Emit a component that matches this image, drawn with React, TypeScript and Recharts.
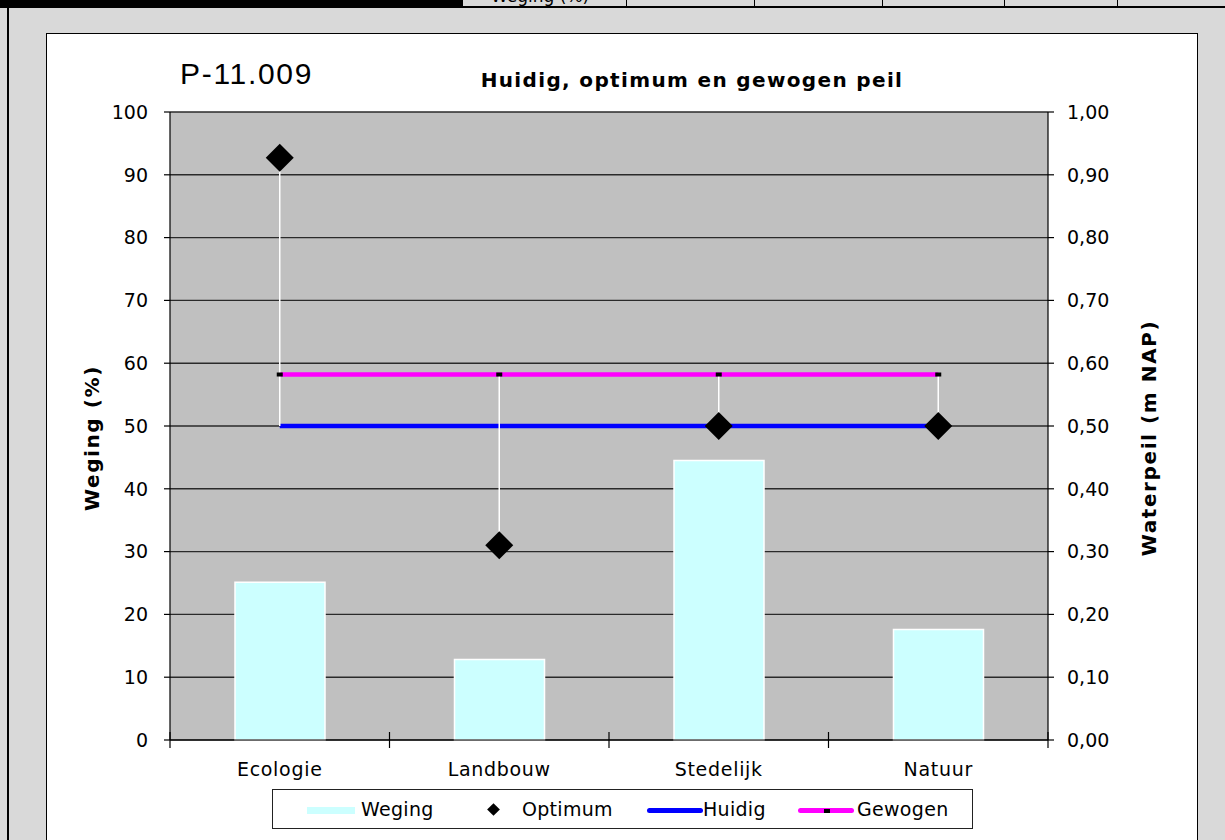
import React from "react"
import {
  ComposedChart,
  Bar,
  Line,
  XAxis,
  YAxis,
  CartesianGrid,
  ErrorBar,
  Label,
} from "recharts"

// categories and values
const categories = ["Ecologie", "Landbouw", "Stedelijk", "Natuur"]
const weging = [25.1, 12.8, 44.5, 17.6]
const optimum = [0.927, 0.31, 0.5, 0.5]
const huidig = [0.5, 0.5, 0.5, 0.5]
const gewogen = [0.582, 0.582, 0.582, 0.582]

const leftTicks = [0, 10, 20, 30, 40, 50, 60, 70, 80, 90, 100]
const rightTicks = [0, 0.1, 0.2, 0.3, 0.4, 0.5, 0.6, 0.7, 0.8, 0.9, 1]

const headerCells = ["Weging (%)", "", "", "", "", ""]
const headerEdges = [462, 626, 754, 882, 1004, 1117, 1225]

const FONT = "'DejaVu Sans', Verdana, sans-serif"

const CHART_W = 1150
const CHART_H = 806
const MARGIN = { top: 78, right: 20, bottom: 60, left: 20 }
const LEFT_AXIS_W = 103
const RIGHT_AXIS_W = 129
const PLOT_W = CHART_W - MARGIN.left - MARGIN.right - LEFT_AXIS_W - RIGHT_AXIS_W
const HALF_BAND = PLOT_W / categories.length / 2

const data = categories.map((name, i) => {
  const opt = optimum[i]
  const lo = Math.min(opt, huidig[i], gewogen[i])
  const hi = Math.max(opt, huidig[i], gewogen[i])
  return {
    name,
    weging: weging[i],
    optimum: opt,
    huidig: huidig[i],
    gewogen: gewogen[i],
    spread: [opt - lo, hi - opt],
  }
})

const fmtComma = (v: number) => v.toFixed(2).replace(".", ",")

const Diamond = (props: any) => {
  const { cx, cy } = props
  if (cx == null || cy == null) return null
  const r = 14
  return (
    <polygon
      points={`${cx},${cy - r} ${cx + r},${cy} ${cx},${cy + r} ${cx - r},${cy}`}
      fill="#000"
    />
  )
}

const SmallSquare = (props: any) => {
  const { cx, cy } = props
  if (cx == null || cy == null) return null
  return <rect x={cx - 3} y={cy - 2} width={6} height={4} fill="#000" />
}

const CategoryTick = (props: any) => {
  const { x, y, payload, index } = props
  const last = index === categories.length - 1
  return (
    <g>
      <line x1={x - HALF_BAND} x2={x - HALF_BAND} y1={y - 8} y2={y + 8} stroke="#000" strokeWidth={1.2} />
      {last && (
        <line x1={x + HALF_BAND} x2={x + HALF_BAND} y1={y - 8} y2={y + 8} stroke="#000" strokeWidth={1.2} />
      )}
      <text
        x={x}
        y={y + 36}
        textAnchor="middle"
        fontSize={19}
        fontFamily={FONT}
        letterSpacing={0.7}
        fill="#000"
      >
        {payload.value}
      </text>
    </g>
  )
}

const AxisTitle = (props: any) => {
  const { viewBox, value, side } = props
  const cx = side === "left" ? viewBox.x + 25 : viewBox.x + viewBox.width - 28
  const cy = viewBox.y + viewBox.height / 2 + 12
  return (
    <text
      x={cx}
      y={cy}
      transform={`rotate(-90 ${cx} ${cy})`}
      textAnchor="middle"
      dominantBaseline="central"
      fontSize={20}
      fontWeight="bold"
      fontFamily={FONT}
      letterSpacing={1.6}
      fill="#000"
    >
      {value}
    </text>
  )
}

function LegendBox() {
  const text = { fontSize: 19, fontFamily: FONT, color: "#000", lineHeight: "20px", letterSpacing: 0.3 }
  return (
    <div
      style={{
        position: "absolute",
        left: 225,
        top: 755,
        width: 701,
        height: 40,
        boxSizing: "border-box",
        border: "1.5px solid #222",
        background: "#fff",
      }}
    >
      <div style={{ position: "absolute", left: 34, top: 17, width: 48, height: 7, background: "#CCFFFF" }} />
      <div style={{ ...text, position: "absolute", left: 88, top: 9 }}>Weging</div>
      <div
        style={{
          position: "absolute",
          left: 216,
          top: 15,
          width: 9,
          height: 9,
          background: "#000",
          transform: "rotate(45deg)",
        }}
      />
      <div style={{ ...text, position: "absolute", left: 249, top: 9 }}>Optimum</div>
      <div style={{ position: "absolute", left: 374, top: 18, width: 56, height: 5, borderRadius: 3, background: "#0000FF" }} />
      <div style={{ ...text, position: "absolute", left: 430, top: 9 }}>Huidig</div>
      <div style={{ position: "absolute", left: 525, top: 18, width: 56, height: 5, borderRadius: 3, background: "#FF00FF" }} />
      <div style={{ position: "absolute", left: 551, top: 18.5, width: 6, height: 4, background: "#000" }} />
      <div style={{ ...text, position: "absolute", left: 584, top: 9 }}>Gewogen</div>
    </div>
  )
}

export default function App() {
  return (
    <div
      style={{
        position: "fixed",
        left: 0,
        top: 0,
        width: 1225,
        height: 840,
        background: "#D9D9D9",
        overflow: "hidden",
      }}
    >
      {/* spreadsheet strip above the chart */}
      <div style={{ position: "absolute", left: 0, top: 0, width: 462, height: 7, background: "#000" }} />
      {headerCells.map((t, i) => (
        <div
          key={i}
          style={{
            position: "absolute",
            left: headerEdges[i],
            top: 0,
            width: headerEdges[i + 1] - headerEdges[i],
            height: 6,
            overflow: "hidden",
            borderLeft: "1px solid #000",
            boxSizing: "border-box",
          }}
        >
          <div style={{ position: "absolute", left: 28, top: -14, fontSize: 17, fontFamily: FONT }}>{t}</div>
        </div>
      ))}
      <div style={{ position: "absolute", left: 0, top: 6, width: 1225, height: 2, background: "#000" }} />
      <div style={{ position: "absolute", left: 7, top: 6, width: 2, height: 840, background: "#000" }} />

      <div
        style={{
          position: "absolute",
          left: 46,
          top: 33,
          width: 1152,
          height: 820,
          boxSizing: "border-box",
          border: "1px solid #000",
          background: "#fff",
        }}
      >
        <div
          style={{
            position: "absolute",
            left: 133,
            top: 23,
            fontSize: 30,
            fontFamily: "'Liberation Sans', Arial, sans-serif",
            letterSpacing: 1.7,
            color: "#000",
          }}
        >
          P-11.009
        </div>
        <div
          style={{
            position: "absolute",
            left: 0,
            top: 34,
            width: 1290,
            textAlign: "center",
            fontSize: 20,
            fontWeight: "bold",
            fontFamily: FONT,
            letterSpacing: 1.35,
            color: "#000",
          }}
        >
          Huidig, optimum en gewogen peil
        </div>

        <ComposedChart width={CHART_W} height={CHART_H} data={data} margin={MARGIN}>
          <CartesianGrid
            yAxisId="left"
            vertical={false}
            horizontal={true}
            fill="#C0C0C0"
            fillOpacity={1}
            stroke="#2a2a2a"
            strokeWidth={1.4}
          />
          <XAxis
            dataKey="name"
            type="category"
            height={40}
            axisLine={{ stroke: "#000", strokeWidth: 1.2 }}
            tickLine={false}
            tickSize={0}
            tickMargin={0}
            tick={<CategoryTick />}
            interval={0}
          />
          <YAxis
            yAxisId="left"
            orientation="left"
            width={LEFT_AXIS_W}
            domain={[0, 100]}
            ticks={leftTicks}
            interval={0}
            axisLine={{ stroke: "#000", strokeWidth: 1.2 }}
            tickLine={{ stroke: "#000", strokeWidth: 1.2 }}
            tickSize={6}
            tickMargin={16}
            tick={{ fontSize: 19, fontFamily: FONT, fill: "#000" }}
          >
            <Label value="Weging (%)" content={<AxisTitle side="left" value="Weging (%)" />} />
          </YAxis>
          <YAxis
            yAxisId="right"
            orientation="right"
            width={RIGHT_AXIS_W}
            domain={[0, 1]}
            ticks={rightTicks}
            interval={0}
            tickFormatter={fmtComma}
            axisLine={{ stroke: "#000", strokeWidth: 1.2 }}
            tickLine={{ stroke: "#000", strokeWidth: 1.2 }}
            tickSize={6}
            tickMargin={13}
            tick={{ fontSize: 19, fontFamily: FONT, fill: "#000" }}
          >
            <Label value="Waterpeil (m NAP)" content={<AxisTitle side="right" value="Waterpeil (m NAP)" />} />
          </YAxis>
          <Bar
            yAxisId="left"
            dataKey="weging"
            name="Weging"
            fill="#CCFFFF"
            stroke="#fff"
            strokeWidth={1.5}
            barSize={90}
            isAnimationActive={false}
          />
          <Line
            yAxisId="right"
            dataKey="huidig"
            name="Huidig"
            stroke="#0000FF"
            strokeWidth={4.5}
            dot={false}
            activeDot={false}
            isAnimationActive={false}
          />
          <Line
            yAxisId="right"
            dataKey="gewogen"
            name="Gewogen"
            stroke="#FF00FF"
            strokeWidth={4.5}
            dot={<SmallSquare />}
            activeDot={false}
            isAnimationActive={false}
          />
          <Line
            yAxisId="right"
            dataKey="optimum"
            name="Optimum"
            stroke="none"
            dot={<Diamond />}
            activeDot={false}
            isAnimationActive={false}
          >
            <ErrorBar dataKey="spread" direction="y" width={0} stroke="#fff" strokeWidth={1.5} />
          </Line>
        </ComposedChart>

        <LegendBox />
      </div>
    </div>
  )
}
